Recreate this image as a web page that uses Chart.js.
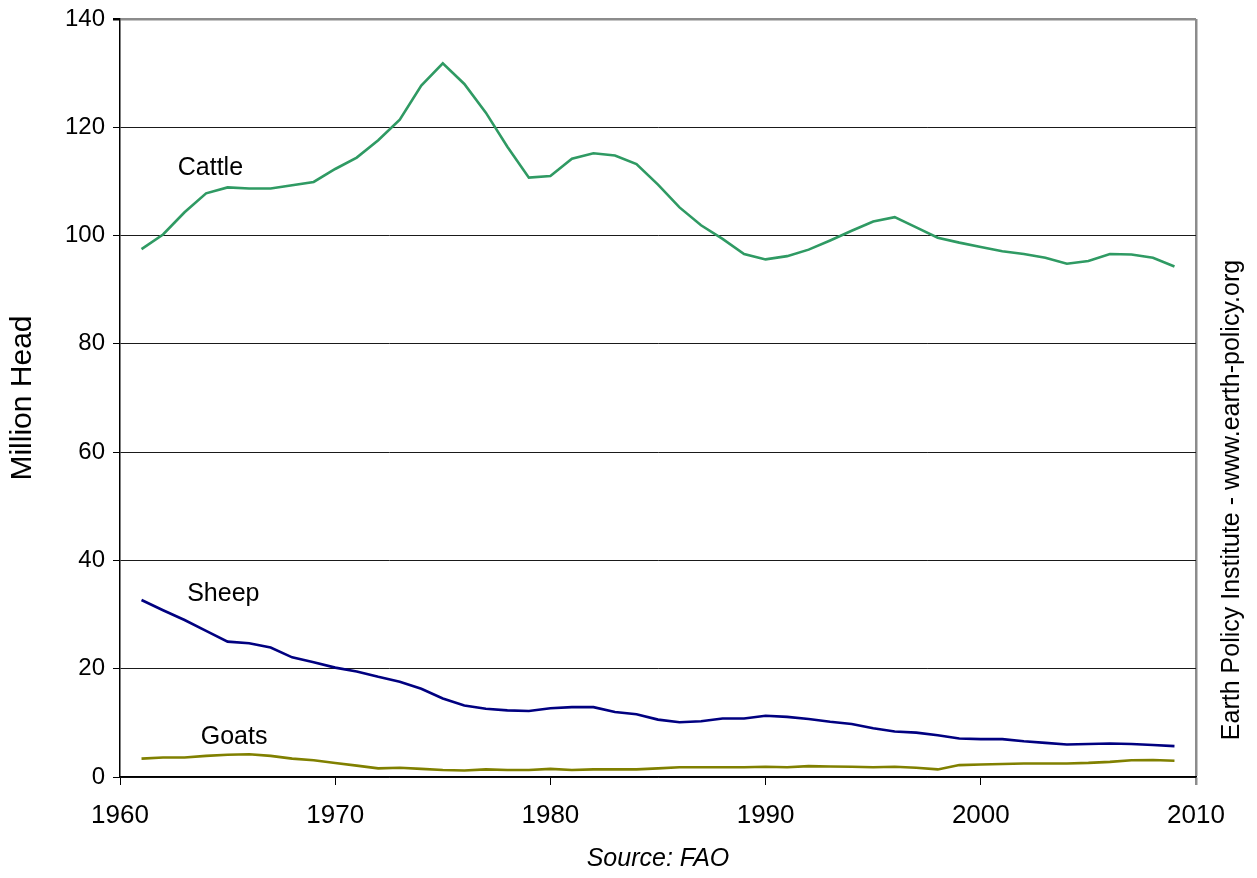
<!DOCTYPE html>
<html>
<head>
<meta charset="utf-8">
<script src="https://cdn.jsdelivr.net/npm/chart.js@4/dist/chart.umd.min.js"></script>
<style>
  html, body { margin: 0; padding: 0; background: #fff; }
  #wrap { width: 1257px; height: 878px; }
</style>
</head>
<body>
<div id="wrap"><canvas id="livestock" width="1257" height="878"></canvas></div>
<script>
// years on the x axis
var years = [1961, 1962, 1963, 1964, 1965, 1966, 1967, 1968, 1969, 1970,
             1971, 1972, 1973, 1974, 1975, 1976, 1977, 1978, 1979, 1980,
             1981, 1982, 1983, 1984, 1985, 1986, 1987, 1988, 1989, 1990,
             1991, 1992, 1993, 1994, 1995, 1996, 1997, 1998, 1999, 2000,
             2001, 2002, 2003, 2004, 2005, 2006, 2007, 2008, 2009];

// million head
var cattle = [97.5, 100.2, 104.3, 107.8, 108.9, 108.7, 108.7, 109.3, 109.9, 112.3,
              114.4, 117.6, 121.4, 127.7, 131.8, 128.0, 122.7, 116.4, 110.7, 111.0,
              114.2, 115.2, 114.8, 113.2, 109.4, 105.2, 101.9, 99.4, 96.6, 95.6,
              96.2, 97.4, 99.1, 100.9, 102.6, 103.4, 101.5, 99.6, 98.7, 97.9,
              97.1, 96.6, 95.9, 94.8, 95.3, 96.6, 96.5, 95.9, 94.3];
var sheep = [32.7, 30.8, 29.0, 27.0, 25.0, 24.7, 23.9, 22.1, 21.2, 20.2,
             19.5, 18.5, 17.6, 16.3, 14.5, 13.2, 12.6, 12.3, 12.2, 12.7,
             12.9, 12.9, 12.0, 11.6, 10.6, 10.1, 10.3, 10.8, 10.8, 11.3,
             11.1, 10.7, 10.2, 9.8, 9.0, 8.4, 8.2, 7.7, 7.1, 7.0,
             7.0, 6.6, 6.3, 6.0, 6.1, 6.2, 6.1, 5.9, 5.7];
var goats = [3.4, 3.6, 3.6, 3.9, 4.1, 4.2, 3.9, 3.4, 3.1, 2.6,
             2.1, 1.6, 1.7, 1.5, 1.3, 1.2, 1.4, 1.3, 1.3, 1.5,
             1.3, 1.4, 1.4, 1.4, 1.6, 1.8, 1.8, 1.8, 1.8, 1.9,
             1.8, 2.0, 1.95, 1.9, 1.8, 1.9, 1.7, 1.4, 2.2, 2.3,
             2.4, 2.5, 2.5, 2.5, 2.6, 2.8, 3.1, 3.15, 3.0];

var xTicks = [1960, 1970, 1980, 1990, 2000, 2010];
var yTicks = [0, 20, 40, 60, 80, 100, 120, 140];

var FONT = '"Liberation Sans", Arial, sans-serif';
var borderGray = '#8c8c8c';

function pts(vals) {
    return years.map(function (y, i) { return { x: y, y: vals[i] }; });
}

// series names written next to their lines
var seriesLabels = [
    { text: 'Cattle', x: 1964.2, y: 112.5 },
    { text: 'Sheep',  x: 1964.8, y: 33.8 },
    { text: 'Goats',  x: 1965.3, y: 7.4 }
];

var labelPlugin = {
    id: 'labelPlugin',
    afterDraw: function (chart) {
        var c = chart.ctx, xs = chart.scales.x, ys = chart.scales.y;
        c.save();
        c.fillStyle = '#000';
        c.font = '25px ' + FONT;
        c.textAlign = 'center';
        c.textBaseline = 'middle';
        seriesLabels.forEach(function (l) {
            c.fillText(l.text, xs.getPixelForValue(l.x), ys.getPixelForValue(l.y));
        });
        // credit on the right side, rotated
        c.translate(1232, 500);
        c.rotate(-Math.PI / 2);
        c.fillText('Earth Policy Institute - www.earth-policy.org', 0, 0);
        c.restore();
    }
};

var ctx = document.getElementById('livestock').getContext('2d');
var chartLivestock = new Chart(ctx, {
    type: 'line',
    data: {
        datasets: [
            { label: 'Cattle', data: pts(cattle), borderColor: '#2f9a63', borderWidth: 2.6, pointRadius: 0, tension: 0 },
            { label: 'Sheep', data: pts(sheep), borderColor: '#000080', borderWidth: 2.6, pointRadius: 0, tension: 0 },
            { label: 'Goats', data: pts(goats), borderColor: '#808000', borderWidth: 2.6, pointRadius: 0, tension: 0 }
        ]
    },
    options: {
        responsive: false,
        animation: false,
        layout: { padding: { top: 19, right: 61, left: 0, bottom: 0 } },
        plugins: { legend: { display: false }, tooltip: { enabled: false } },
        scales: {
            x: {
                type: 'linear',
                min: 1960, max: 2010,
                afterBuildTicks: function (s) { s.ticks = xTicks.map(function (v) { return { value: v }; }); },
                afterFit: function (s) { s.height = 101; s.paddingLeft = 0; s.paddingRight = 0; },
                ticks: {
                    color: '#000', font: { family: FONT, size: 26 }, padding: 15, maxRotation: 0,
                    callback: function (v) { return String(v); }
                },
                grid: {
                    drawOnChartArea: true,
                    color: function (g) { return g.tick && g.tick.value === 2010 ? borderGray : 'rgba(0,0,0,0)'; },
                    lineWidth: function (g) { return g.tick && g.tick.value === 2010 ? 2.5 : 1; },
                    tickColor: function (g) { return g.tick && g.tick.value === 2010 ? borderGray : '#000'; },
                    tickLength: 8
                },
                border: { display: true, color: '#000', width: 1.5 },
                title: {
                    display: true, text: 'Source: FAO', color: '#000',
                    font: { family: FONT, size: 25, style: 'italic' },
                    padding: { top: 0, bottom: 4 }
                }
            },
            y: {
                min: 0, max: 140,
                afterBuildTicks: function (s) { s.ticks = yTicks.map(function (v) { return { value: v }; }); },
                afterFit: function (s) { s.width = 120; s.paddingTop = 0; s.paddingBottom = 0; },
                ticks: { color: '#000', font: { family: FONT, size: 24 }, padding: 8 },
                grid: {
                    color: function (g) { return g.tick && g.tick.value === 140 ? borderGray : '#1a1a1a'; },
                    lineWidth: function (g) { return g.tick && g.tick.value === 140 ? 2.5 : 1; },
                    tickColor: '#000',
                    tickLength: 7
                },
                border: { display: true, color: '#000', width: 1.5 },
                title: {
                    display: true, text: 'Million Head', color: '#000',
                    font: { family: FONT, size: 30 },
                    padding: { top: 5, bottom: 0 }
                }
            }
        }
    },
    plugins: [labelPlugin]
});
</script>
</body>
</html>
